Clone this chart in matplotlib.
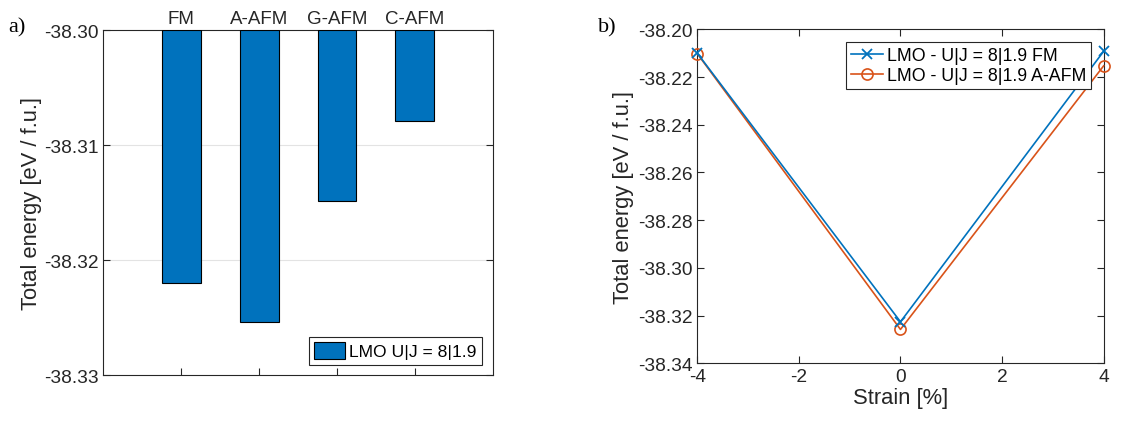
import numpy as np
import matplotlib.pyplot as plt

# magnetic orderings, unstrained
orders = ["FM", "A-AFM", "G-AFM", "C-AFM"]
energy_order = [-38.3220, -38.3254, -38.3149, -38.3079]

# strain scan
strain = [-4, 0, 4]
energy_fm = [-38.2100, -38.3226, -38.2092]
energy_aafm = [-38.2102, -38.3258, -38.2153]

blue = "#0072BD"
orange = "#D95319"
axcol = "#262626"

plt.rcParams["font.family"] = ["Liberation Sans", "DejaVu Sans"]
plt.rcParams["font.size"] = 13.5
plt.rcParams["axes.unicode_minus"] = False

fig = plt.figure(figsize=(11.27, 4.27), dpi=100)


def style_axes(ax):
    for s in ax.spines.values():
        s.set_color(axcol)
        s.set_linewidth(0.8)
    ax.tick_params(direction="in", colors=axcol, labelcolor=axcol,
                   width=0.8, length=5, labelsize=13.8)


# a) bar chart hanging from -38.30
ax1 = fig.add_axes([0.0917, 0.1194, 0.3455, 0.808])
base = -38.30
xpos = np.arange(1, len(orders) + 1)
heights = [e - base for e in energy_order]
ax1.bar(xpos, heights, bottom=base, width=0.5, color=blue,
        edgecolor="black", linewidth=0.8, label="LMO U|J = 8|1.9", zorder=3)
ax1.set_xlim(0, 5)
ax1.set_ylim(-38.33, -38.30)
ax1.set_yticks([-38.33, -38.32, -38.31, -38.30])
ax1.set_yticklabels(["-38.33", "-38.32", "-38.31", "-38.30"])
ax1.set_xticks(xpos)
ax1.set_xticklabels(orders)
style_axes(ax1)
ax1.tick_params(axis="x", bottom=True, top=False, labelbottom=False,
                labeltop=True, pad=2, labelsize=13.5)
ax1.tick_params(axis="y", left=True, right=True)
for yv in [-38.31, -38.32]:
    ax1.axhline(yv, color="#e3e3e3", linewidth=0.8, zorder=0)
ax1.set_ylabel("Total energy [eV / f.u.]", color=axcol, fontsize=15.8,
               labelpad=1)
leg1 = ax1.legend(loc="lower right", fancybox=False, edgecolor=axcol,
                  framealpha=1, fontsize=12.6, handlelength=1.75,
                  handleheight=1.1, handletextpad=0.25, borderpad=0.3,
                  borderaxespad=0.6)
leg1.get_frame().set_linewidth(0.8)

# b) energy vs strain
ax2 = fig.add_axes([0.6187, 0.1468, 0.3606, 0.7822])
ax2.plot(strain, energy_fm, color=blue, marker="x", markersize=7,
         markeredgewidth=1.3, linewidth=1.2, label="LMO - U|J = 8|1.9 FM",
         clip_on=False, zorder=4)
ax2.plot(strain, energy_aafm, color=orange, marker="o", markersize=8,
         markerfacecolor="none", markeredgewidth=1.2, linewidth=1.2,
         label="LMO - U|J = 8|1.9 A-AFM", clip_on=False, zorder=3)
ax2.set_xlim(-4, 4)
ax2.set_ylim(-38.34, -38.20)
ax2.set_xticks([-4, -2, 0, 2, 4])
ax2.set_yticks(np.round(np.arange(-38.34, -38.199, 0.02), 2))
ax2.yaxis.set_major_formatter(plt.FormatStrFormatter("%.2f"))
style_axes(ax2)
ax2.tick_params(top=True, right=True)
ax2.set_xlabel("Strain [%]", color=axcol, fontsize=15.8, labelpad=1)
ax2.set_ylabel("Total energy [eV / f.u.]", color=axcol, fontsize=15.8,
               labelpad=3)
leg2 = ax2.legend(loc="upper right", fancybox=False, edgecolor=axcol,
                  framealpha=1, fontsize=12.8, handlelength=1.8,
                  handletextpad=0.2, borderpad=0.3, labelspacing=0.15,
                  borderaxespad=0.7)
leg2.get_frame().set_linewidth(0.8)

# panel tags
fig.text(0.007, 0.925, "a)", family=["Liberation Serif", "DejaVu Serif"],
         fontsize=16, color="black")
fig.text(0.531, 0.925, "b)", family=["Liberation Serif", "DejaVu Serif"],
         fontsize=16, color="black")

fig.savefig("out.png", dpi=100)
